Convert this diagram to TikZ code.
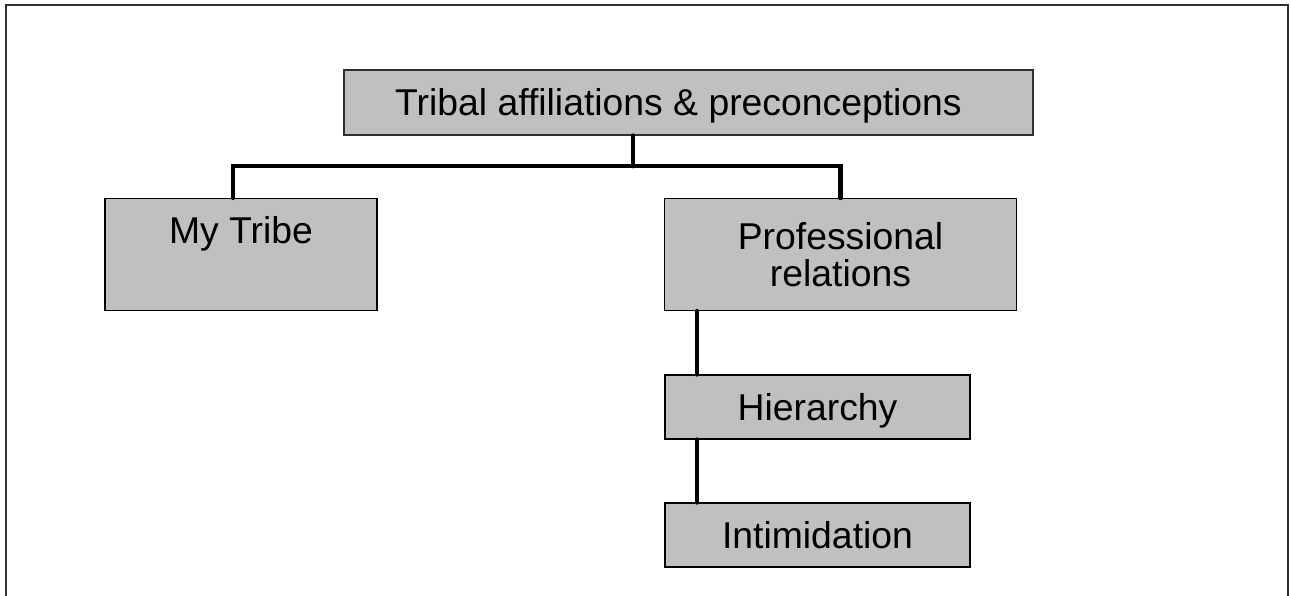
\documentclass[tikz,border=0pt]{standalone}
\usepackage{fontspec}
\setmainfont{Liberation Sans}
\begin{document}
\begin{tikzpicture}[x=0.75pt,y=-0.75pt,
  box/.style={draw=black,line width=1.1pt,fill=boxgray,inner sep=0pt,
    align=center,font=\fontsize{28pt}{28pt}\selectfont},
  oneline/.style={text height=20pt,text depth=0pt},
  conn/.style={line width=3.6pt,line cap=round,line join=miter}]
\definecolor{boxgray}{HTML}{C0C0C0}
\definecolor{framegray}{HTML}{303030}
\useasboundingbox (0,0) rectangle (1290,596);
% outer frame, open at the bottom edge of the page
\draw[line width=1.5pt,framegray] (6,600) -- (6,5) -- (1288,5) -- (1288,600);

% boxes
\node[box,oneline,draw=framegray,minimum width=689*0.75pt,minimum height=65*0.75pt]
  (top) at (688.5,102.5) {\hspace*{-15pt}Tribal affiliations \& preconceptions};
\node[box,minimum width=272*0.75pt,minimum height=112*0.75pt]
  (mytribe) at (241,254.5) {My Tribe\\\strut};
\node[box,minimum width=352*0.75pt,minimum height=112*0.75pt]
  (prof) at (840.5,254.5) {Professional\\relations};
\node[box,oneline,minimum width=305*0.75pt,minimum height=64*0.75pt]
  (hier) at (817.5,407) {Hierarchy};
\node[box,oneline,minimum width=305*0.75pt,minimum height=64*0.75pt]
  (intim) at (817.5,535) {Intimidation};

% connectors
\coordinate (bus) at (633,166);
\coordinate (spine) at (697,0);
\draw[conn] (bus |- top.south) -- (bus);
\draw[conn] ([xshift=-6pt]mytribe.north) |- (bus) -| (prof.north);
\draw[conn] (spine |- prof.south) -- (spine |- hier.north);
\draw[conn] (spine |- hier.south) -- (spine |- intim.north);
\end{tikzpicture}
\end{document}
